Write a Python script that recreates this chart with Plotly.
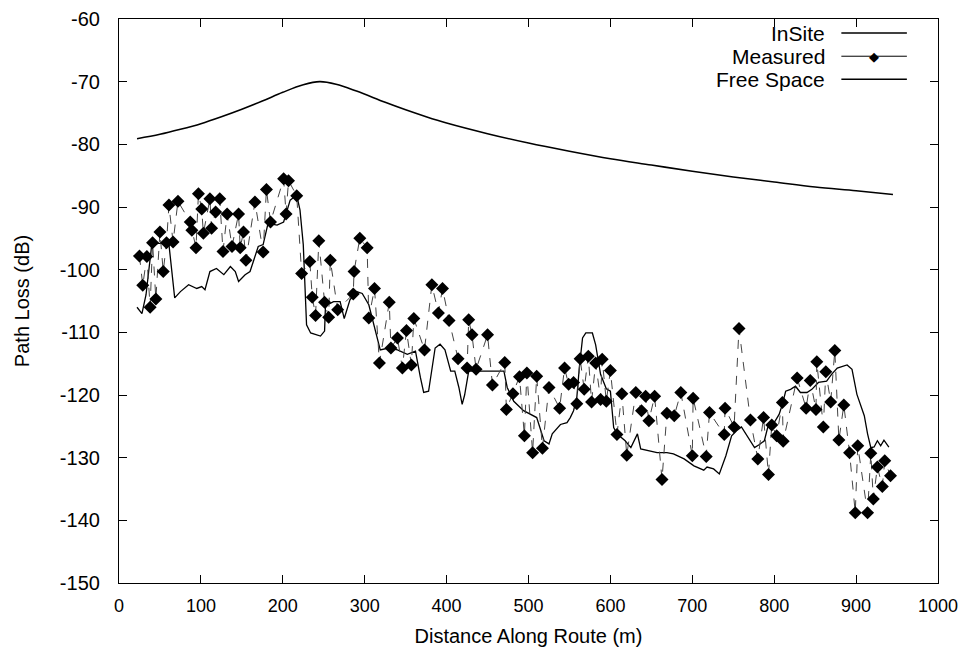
import plotly.graph_objects as go

# ---------------- data ----------------
free_x = [22, 50, 75, 100, 125, 150, 175, 200, 225, 245, 265, 290, 325, 350, 375, 400,
          450, 500, 550, 600, 650, 700, 750, 800, 850, 900, 945]
free_y = [-79.1, -78.4, -77.6, -76.7, -75.6, -74.4, -73.1, -71.7, -70.5, -70.0, -70.4, -71.5,
          -73.3, -74.5, -75.6, -76.6, -78.3, -79.8, -81.1, -82.3, -83.3, -84.3, -85.2, -86.0,
          -86.8, -87.4, -88.0]

insite_x = [22, 28, 33, 37, 40, 48, 55, 61, 64, 68, 75, 85, 95, 101, 105, 111, 119, 128, 136, 142,
            146, 154, 160, 170, 176, 182, 193, 201, 209, 217, 221, 225, 229, 234, 246, 251, 252, 256,
            262, 270, 275, 282, 290, 297, 305, 313, 319, 329, 340, 352, 362, 368, 372, 378, 382, 386,
            392, 398, 405, 410, 415, 419, 422, 427, 441, 470, 474, 482, 494, 502, 510, 519, 525, 529,
            535, 539, 547, 551, 555, 559, 562, 566, 570, 578, 582, 584, 588, 595, 600, 604, 608, 618,
            625, 633, 637, 657, 669, 677, 690, 702, 714, 718, 726, 733, 741, 748, 754, 760, 768, 776,
            782, 788, 792, 800, 806, 810, 814, 820, 826, 832, 840, 846, 854, 864, 870, 877, 889, 895,
            901, 910, 914, 918, 922, 926, 930, 934, 940]
insite_y = [-106.0, -107.0, -104.0, -99.0, -96.0, -95.8, -95.8, -96.0, -100.0, -104.5, -103.5, -102.4,
            -103.0, -102.7, -103.2, -100.3, -99.8, -100.8, -99.5, -100.3, -101.9, -100.8, -100.3, -96.3,
            -96.0, -92.6, -92.9, -92.4, -88.9, -88.1, -90.5, -96.0, -108.8, -110.1, -110.6, -109.8,
            -106.1, -105.5, -105.1, -105.1, -107.8, -104.8, -103.5, -103.8, -105.6, -109.8, -112.8,
            -112.5, -112.8, -113.5, -113.0, -117.2, -119.6, -119.4, -115.7, -112.5, -111.9, -112.8,
            -116.2, -116.2, -118.8, -121.5, -120.0, -116.2, -116.2, -116.2, -118.8, -121.0, -122.5,
            -123.0, -123.6, -127.3, -127.8, -126.2, -125.2, -124.7, -124.4, -123.6, -122.5, -120.4,
            -115.7, -110.9, -110.1, -110.1, -112.0, -113.8, -116.7, -119.0, -119.4, -125.2, -126.2,
            -127.3, -128.4, -126.2, -128.6, -129.2, -129.2, -129.4, -130.2, -131.3, -132.0, -131.5,
            -131.8, -132.6, -129.7, -126.5, -125.7, -125.1, -126.8, -128.4, -127.9, -127.3, -125.2,
            -124.4, -123.1, -121.5, -119.4, -119.1, -118.6, -119.6, -119.6, -119.1, -118.0, -117.8,
            -116.7, -115.7, -115.2, -115.9, -119.9, -123.3, -126.2, -128.4, -128.3, -127.3, -128.1,
            -127.2, -128.3]

meas_x = [25, 29, 34, 38, 41, 45, 50, 54, 58, 61, 66, 72, 87, 89, 94, 97, 101, 103, 111, 113,
          118, 123, 127, 132, 138, 146, 148, 152, 155, 166, 176, 180, 185, 201, 204, 207, 217, 223,
          233, 236, 240, 244, 251, 256, 258, 267, 286, 287, 294, 303, 305, 312, 318, 330, 332, 340,
          346, 351, 357, 360, 373, 382, 390, 395, 403, 414, 425, 427, 431, 436, 450, 456, 471, 473,
          481, 489, 495, 498, 505, 510, 517, 525, 538, 544, 549, 555, 559, 563, 568, 573, 577, 582,
          588, 590, 595, 600, 608, 614, 620, 631, 638, 643, 647, 654, 663, 669, 678, 686, 700, 701,
          717, 721, 739, 740, 751, 757, 771, 780, 787, 793, 797, 803, 810, 811, 828, 839, 844, 851,
          852, 860, 863, 869, 874, 879, 885, 892, 899, 902, 914, 918, 921, 926, 932, 935, 942]
meas_y = [-97.8, -102.5, -97.9, -106.0, -95.7, -104.7, -94.0, -100.3, -95.7, -89.7, -95.6, -89.1,
          -92.4, -93.7, -96.5, -87.9, -90.3, -94.2, -88.7, -93.4, -90.8, -88.7, -97.1, -91.1, -96.3,
          -91.1, -96.5, -94.0, -98.5, -89.2, -97.2, -87.2, -92.4, -85.5, -91.1, -85.8, -88.2, -100.6,
          -98.7, -104.4, -107.3, -95.4, -105.2, -107.6, -98.5, -106.4, -103.9, -100.3, -95.0, -96.5,
          -107.7, -103.0, -114.9, -105.2, -112.5, -110.9, -115.7, -109.7, -115.2, -107.8, -112.8,
          -102.4, -106.9, -103.0, -108.1, -114.2, -115.7, -108.0, -110.4, -115.9, -110.4, -118.4,
          -114.8, -122.3, -119.8, -117.1, -126.5, -116.5, -129.2, -117.0, -128.5, -118.8, -122.1,
          -115.7, -118.3, -118.0, -121.4, -114.2, -119.1, -113.8, -121.1, -114.9, -120.7, -114.3,
          -121.0, -116.1, -126.3, -119.8, -129.6, -119.6, -122.5, -120.2, -124.1, -120.2, -133.5,
          -122.9, -123.3, -119.6, -129.7, -120.5, -129.8, -122.8, -126.3, -122.1, -125.1, -109.4,
          -124.0, -130.2, -123.6, -132.7, -124.8, -126.5, -121.2, -127.4, -117.3, -122.1, -117.7,
          -122.3, -114.7, -125.1, -116.3, -121.1, -112.9, -127.2, -121.6, -129.2, -138.8, -128.1,
          -138.8, -129.3, -136.6, -131.5, -134.6, -130.5, -132.9]

x_ticks = [0, 100, 200, 300, 400, 500, 600, 700, 800, 900, 1000]
x_tick_text = ["0", "100", "200", "300", "400", "500", "600", "700", "800", "900", "1000"]
y_ticks = [-60, -70, -80, -90, -100, -110, -120, -130, -140, -150]
y_tick_text = ["-60", "-70", "-80", "-90", "-100", "-110", "-120", "-130", "-140", "-150"]

legend_names = ["InSite", "Measured", "Free Space"]

# ---------------- figure ----------------
FONT = "Liberation Sans, Arial, Helvetica, sans-serif"

fig = go.Figure()
fig.add_trace(go.Scatter(x=insite_x, y=insite_y, mode="lines", name=legend_names[0],
                         line=dict(color="black", width=1.3)))
fig.add_trace(go.Scatter(x=meas_x, y=meas_y, mode="lines+markers", name=legend_names[1],
                         line=dict(color="#444444", width=1, dash="dash"),
                         marker=dict(symbol="diamond", size=10, color="black")))
fig.add_trace(go.Scatter(x=free_x, y=free_y, mode="lines", name=legend_names[2],
                         line=dict(color="black", width=1.6, shape="spline")))

# custom legend (text on the left, sample on the right)
rows_y = [0.975, 0.934, 0.893]
for name, yy in zip(legend_names, rows_y):
    fig.add_annotation(xref="paper", yref="paper", x=0.865, y=yy, text=name,
                       showarrow=False, xanchor="right", yanchor="middle",
                       font=dict(family=FONT, size=21, color="black"))
    fig.add_shape(type="line", xref="paper", yref="paper", x0=0.882, x1=0.962, y0=yy, y1=yy,
                  line=dict(color="black", width=1.5 if name != "Measured" else 1))
fig.add_annotation(xref="paper", yref="paper", x=0.922, y=rows_y[1], text="◆",
                   showarrow=False, xanchor="center", yanchor="middle",
                   font=dict(family="DejaVu Sans", size=13, color="black"))

axis_common = dict(showgrid=False, zeroline=False, showline=True, linecolor="black", linewidth=1.2,
                   mirror="ticks", ticks="inside", ticklen=8, tickcolor="black", automargin=False,
                   ticklabeloverflow="allow")

fig.update_xaxes(range=[0, 1000], tickvals=x_ticks, ticktext=x_tick_text,
                 tickfont=dict(family=FONT, size=18, color="black"),
                 title=dict(text="Distance Along Route (m)", font=dict(family=FONT, size=20, color="black"),
                            standoff=14),
                 ticklabelstandoff=6, **axis_common)
fig.update_yaxes(range=[-150, -60], tickvals=y_ticks, ticktext=y_tick_text,
                 tickfont=dict(family=FONT, size=20, color="black"),
                 title=dict(text="Path Loss (dB)", font=dict(family=FONT, size=20, color="black"),
                            standoff=24),
                 ticklabelstandoff=14, **axis_common)

# page body adds an 8px offset; size the figure so the plot area lands at about 119..938 x 19..583
fig.update_layout(width=959, height=652, showlegend=False,
                  margin=dict(l=111, r=29, t=11, b=77),
                  paper_bgcolor="white", plot_bgcolor="white")

fig.write_html("out.html")
